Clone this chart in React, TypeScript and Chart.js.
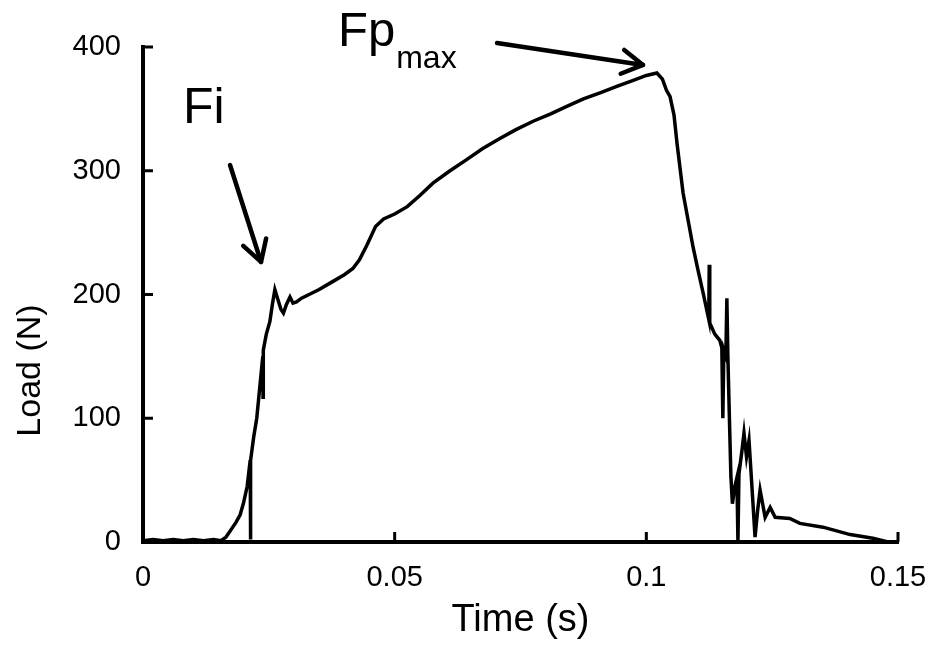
import React, { useEffect, useRef } from 'react';
import { Chart, registerables } from 'chart.js';

Chart.register(...registerables);

// ---- data ----
const timeS = [
  0, 0.002, 0.004, 0.006, 0.008, 0.010, 0.012, 0.014, 0.0155, 0.0165,
  0.0175, 0.0185, 0.0193, 0.0200, 0.0207, 0.0213, 0.02135, 0.0214, 0.0220, 0.0226,
  0.0232, 0.0238, 0.02385, 0.0239, 0.0245, 0.0252, 0.0257, 0.0262, 0.0268, 0.0274,
  0.0279, 0.0285, 0.0292, 0.0298, 0.0305, 0.0315, 0.033, 0.035, 0.0375, 0.040,
  0.0417, 0.043, 0.0445, 0.0462, 0.0478, 0.050, 0.0525, 0.055, 0.0576, 0.061,
  0.0643, 0.0675, 0.0709, 0.074, 0.0775, 0.081, 0.0842, 0.0875, 0.0908, 0.094,
  0.0974, 0.100, 0.1021, 0.1032, 0.104, 0.1047, 0.1055, 0.1061, 0.1073, 0.1083,
  0.1093, 0.1103, 0.1113, 0.1124, 0.1125, 0.1126, 0.1136, 0.1146, 0.1150, 0.1152,
  0.1154, 0.1158, 0.1160, 0.1162, 0.1165, 0.1168, 0.1171, 0.1176, 0.1180, 0.1182,
  0.1184, 0.1190, 0.1194, 0.1199, 0.1204, 0.1209, 0.1216, 0.1221, 0.1226, 0.1236,
  0.1246, 0.1256, 0.1285, 0.1305, 0.1351, 0.1405, 0.145, 0.147, 0.148,
];
const loadN = [
  1, 2, 1, 2, 1, 2, 1, 2, 1, 4,
  10, 16, 22, 32, 45, 66, 2, 66, 85, 100,
  125, 150, 117, 155, 168, 178, 192, 204, 196, 188,
  185, 192, 198, 193, 194, 197, 200, 204, 210, 216,
  221, 228, 240, 255, 261, 265, 271, 280, 290, 300,
  309, 318, 326, 333, 340, 346, 352, 358, 363, 368,
  373, 377, 379, 374, 365, 360, 345, 322, 282, 260,
  238, 219, 201, 180, 224, 177, 168, 163, 157, 100,
  155, 150, 197, 150, 101, 53, 31, 45, 52, 0,
  55, 74, 88, 69, 82, 50, 4, 25, 42, 20,
  28, 20, 19, 15, 12, 6, 3, 1, 0,
];

const xTicks = [0, 0.05, 0.1, 0.15];
const xTickLabels = ['0', '0.05', '0.1', '0.15'];
const yTicks = [0, 100, 200, 300, 400];
const yTickLabels = ['0', '100', '200', '300', '400'];
const xTitle = 'Time (s)';
const yTitle = 'Load (N)';

// annotations (data coordinates)
const fiLabel = 'Fi';
const fiLabelAt = [0.00795, 338.9];
const fiArrowFrom = [0.01729, 304.6];
const fiArrowTo = [0.02345, 226.3];
const fpLabel = 'Fp';
const fpSub = 'max';
const fpLabelAt = [0.03874, 400.8];
const fpSubAt = [0.05030, 383.0];
const fpArrowFrom = [0.07033, 403.2];
const fpArrowTo = [0.09934, 385.5];

const FONT = '"Liberation Sans", Arial, sans-serif';

function drawArrow(ctx: CanvasRenderingContext2D, x1: number, y1: number, x2: number, y2: number) {
  const ang = Math.atan2(y2 - y1, x2 - x1);
  const len = 24;
  const spread = Math.PI / 6;
  ctx.beginPath();
  ctx.moveTo(x1, y1);
  ctx.lineTo(x2, y2);
  ctx.stroke();
  ctx.beginPath();
  ctx.moveTo(x2 - len * Math.cos(ang - spread), y2 - len * Math.sin(ang - spread));
  ctx.lineTo(x2, y2);
  ctx.lineTo(x2 - len * Math.cos(ang + spread), y2 - len * Math.sin(ang + spread));
  ctx.stroke();
}

const overlayPlugin = {
  id: 'overlay',
  afterDraw(chart: any) {
    const { ctx, scales } = chart;
    const xs = scales.x;
    const ys = scales.y;
    const px = (v: number) => xs.getPixelForValue(v);
    const py = (v: number) => ys.getPixelForValue(v);
    ctx.save();
    ctx.strokeStyle = '#000';
    ctx.fillStyle = '#000';
    // inner tick marks
    ctx.lineWidth = 3;
    ctx.lineCap = 'butt';
    for (const v of yTicks) {
      const y = py(v);
      ctx.beginPath();
      ctx.moveTo(xs.left, y);
      ctx.lineTo(xs.left + 10, y);
      ctx.stroke();
    }
    for (const v of xTicks) {
      const x = px(v);
      ctx.beginPath();
      ctx.moveTo(x, ys.bottom);
      ctx.lineTo(x, ys.bottom - 10);
      ctx.stroke();
    }
    // arrows
    ctx.lineWidth = 4.5;
    ctx.lineCap = 'round';
    ctx.lineJoin = 'round';
    drawArrow(ctx, px(fiArrowFrom[0]), py(fiArrowFrom[1]), px(fiArrowTo[0]), py(fiArrowTo[1]));
    drawArrow(ctx, px(fpArrowFrom[0]), py(fpArrowFrom[1]), px(fpArrowTo[0]), py(fpArrowTo[1]));
    // annotation text
    ctx.textAlign = 'left';
    ctx.textBaseline = 'alphabetic';
    ctx.font = `50px ${FONT}`;
    ctx.fillText(fiLabel, px(fiLabelAt[0]), py(fiLabelAt[1]));
    ctx.font = `49px ${FONT}`;
    ctx.fillText(fpLabel, px(fpLabelAt[0]), py(fpLabelAt[1]));
    ctx.font = `32px ${FONT}`;
    ctx.fillText(fpSub, px(fpSubAt[0]), py(fpSubAt[1]));
    // y axis title
    ctx.font = `34px ${FONT}`;
    ctx.textAlign = 'center';
    ctx.textBaseline = 'middle';
    ctx.translate(31, (ys.top + ys.bottom) / 2 + 76);
    ctx.rotate(-Math.PI / 2);
    ctx.fillText(yTitle, 0, 0);
    ctx.restore();
  },
};

export default function App() {
  const canvasRef = useRef<HTMLCanvasElement | null>(null);

  useEffect(() => {
    const canvas = canvasRef.current;
    if (!canvas) return;
    const points = timeS.map((t, i) => ({ x: t, y: loadN[i] }));
    const chart = new Chart(canvas, {
      type: 'line',
      data: {
        datasets: [
          {
            data: points,
            borderColor: '#000',
            borderWidth: 3.5,
            pointRadius: 0,
            tension: 0,
            fill: false,
          },
        ],
      },
      options: {
        animation: false,
        responsive: false,
        events: [],
        layout: { padding: { top: 47, right: 38, bottom: 0, left: 0 } },
        plugins: {
          legend: { display: false },
          tooltip: { enabled: false },
        },
        scales: {
          x: {
            type: 'linear',
            min: 0,
            max: 0.15,
            afterFit: (s: any) => {
              s.height = 109;
              s.paddingLeft = 0;
              s.paddingRight = 0;
            },
            afterBuildTicks: (s: any) => { s.ticks = xTicks.map((v) => ({ value: v })); },
            grid: { display: false, drawTicks: false },
            border: { display: true, color: '#000', width: 4 },
            ticks: {
              color: '#000',
              padding: 19,
              maxRotation: 0,
              font: { family: FONT, size: 29 },
              callback: (_v: any, i: number) => xTickLabels[i],
            },
            title: {
              display: true,
              text: xTitle,
              color: '#000',
              font: { family: FONT, size: 38 },
              padding: { top: 0, bottom: 8 },
            },
          },
          y: {
            type: 'linear',
            min: 0,
            max: 400,
            afterFit: (s: any) => {
              s.width = 143;
              s.paddingTop = 0;
              s.paddingBottom = 0;
            },
            afterBuildTicks: (s: any) => { s.ticks = yTicks.map((v) => ({ value: v })); },
            grid: { display: false, drawTicks: false },
            border: { display: true, color: '#000', width: 4 },
            ticks: {
              color: '#000',
              padding: 22,
              font: { family: FONT, size: 29 },
              callback: (_v: any, i: number) => yTickLabels[i],
            },
            title: { display: false },
          },
        },
      },
      plugins: [overlayPlugin],
    });
    return () => chart.destroy();
  }, []);

  return (
    <div style={{ position: 'fixed', left: 0, top: 0, width: 936, height: 651, background: '#fff' }}>
      <canvas ref={canvasRef} width={936} height={651} style={{ width: 936, height: 651 }} />
    </div>
  );
}
